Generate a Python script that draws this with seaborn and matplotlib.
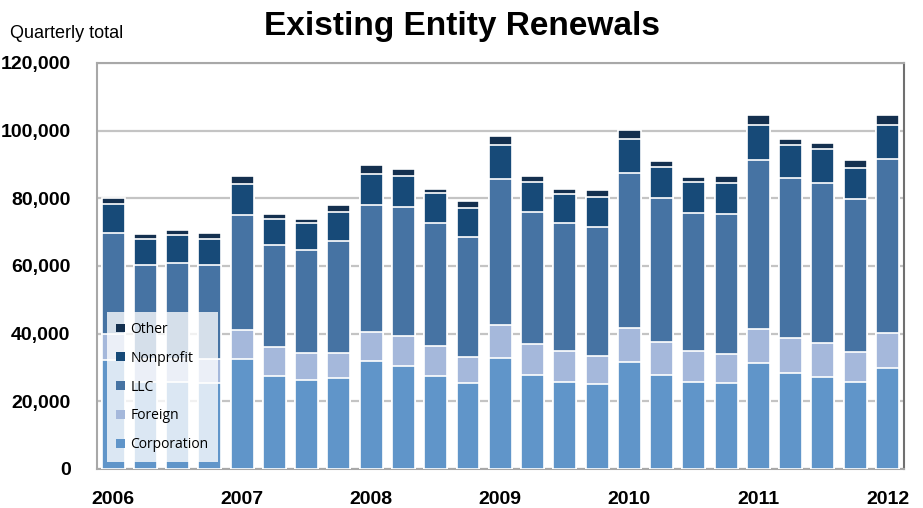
import numpy as np
import pandas as pd
import seaborn as sns
from matplotlib import pyplot as plt
from matplotlib.ticker import FuncFormatter, FixedLocator

# quarterly renewals, 2006 Q1 .. 2012 Q1 (thousands)
quarters = [f"{y} Q{q}" for y in range(2006, 2013) for q in range(1, 5)][:25]
corporation = [32.2, 25.8, 25.6, 25.5, 32.5, 27.6, 26.2, 26.8, 31.8, 30.4, 27.5, 25.4,
               32.8, 27.8, 25.8, 25.0, 31.7, 27.8, 25.6, 25.3, 31.4, 28.5, 27.1, 25.6, 29.9]
foreign = [7.7, 6.8, 7.0, 6.9, 8.5, 8.4, 8.0, 7.4, 8.8, 8.9, 8.9, 7.8,
           9.9, 9.1, 9.0, 8.4, 9.9, 9.7, 9.4, 8.7, 9.9, 10.3, 10.2, 9.0, 10.2]
llc = [29.9, 27.8, 28.4, 27.8, 34.2, 30.2, 30.4, 33.2, 37.5, 38.0, 36.4, 35.4,
       43.0, 39.1, 37.8, 38.2, 45.8, 42.5, 40.8, 41.4, 50.0, 47.2, 47.3, 45.1, 51.4]
nonprofit = [8.5, 7.6, 8.1, 7.8, 9.0, 7.6, 8.1, 8.6, 9.0, 9.4, 8.8, 8.5,
             10.2, 8.9, 8.7, 8.9, 10.1, 9.4, 9.1, 9.2, 10.5, 9.9, 10.0, 9.3, 10.3]
other = [1.9, 1.5, 1.4, 1.8, 2.3, 1.7, 1.1, 1.9, 2.7, 1.9, 1.1, 2.1,
         2.6, 1.8, 1.4, 2.0, 2.6, 1.7, 1.3, 2.0, 2.7, 1.7, 1.7, 2.3, 2.7]
series_names = ["Corporation", "Foreign", "LLC", "Nonprofit", "Other"]
colors = ["#6095c9", "#a5b8db", "#4673a3", "#174a78", "#14304f"]
year_labels = ["2006", "2007", "2008", "2009", "2010", "2011", "2012"]

df = pd.DataFrame({"quarter": quarters, "Corporation": corporation, "Foreign": foreign,
                   "LLC": llc, "Nonprofit": nonprofit, "Other": other})
for c in series_names:
    df[c] = df[c] * 1000
cum = df[series_names].cumsum(axis=1)

sns.set_style("white")
plt.rcParams["font.family"] = ["Liberation Sans Narrow", "Liberation Sans", "DejaVu Sans"]
plt.rcParams["text.color"] = "black"
plt.rcParams["xtick.color"] = "black"
plt.rcParams["ytick.color"] = "black"

fig = plt.figure(figsize=(9.23, 5.08), dpi=100)
ax = fig.add_axes([0.105, 0.0768, 0.874, 0.7992])

# draw cumulative totals from the top layer down so each sits on the last
for name, col in zip(series_names[::-1], colors[::-1]):
    sns.barplot(x=df["quarter"], y=cum[name], color=col, width=0.71,
                edgecolor="white", linewidth=1.2, saturation=1, ax=ax, label=name,
                zorder=3)

ax.set_ylim(0, 120000)
ax.set_xlim(-0.5, 24.5)
ax.set_yticks(np.arange(0, 120001, 20000))
ax.yaxis.set_major_formatter(FuncFormatter(lambda v, p: f"{int(v):,}"))
ax.grid(axis="y", color="#c4c4c4", linewidth=1.6, zorder=0)
ax.set_axisbelow(True)

ax.set_xticks(np.arange(0, 25, 4))
ax.set_xticklabels(year_labels)
ax.xaxis.set_minor_locator(FixedLocator(np.arange(-0.5, 24, 4)))
ax.tick_params(axis="x", which="major", length=0, pad=16)
ax.tick_params(axis="x", which="minor", length=6, color="#a0a0a0", width=1.2)
ax.tick_params(axis="y", length=5, color="#a0a0a0", width=1.2, pad=14)
for lab in ax.get_xticklabels() + ax.get_yticklabels():
    lab.set_fontsize(14)
    lab.set_fontweight("bold")
ax.set_xlabel("")
ax.set_ylabel("")

for s in ["left", "bottom", "top"]:
    ax.spines[s].set_color("#a8a8a8")
    ax.spines[s].set_linewidth(1.5)
ax.spines["right"].set_color("#707070")
ax.spines["right"].set_linewidth(1.5)

handles, labels = ax.get_legend_handles_labels()
leg = ax.legend(handles, labels, loc="lower left", bbox_to_anchor=(0.012, 0.017),
                frameon=True, fancybox=False, framealpha=0.78, edgecolor="none",
                handlelength=0.6, handleheight=0.6, labelspacing=1.0,
                prop={"family": "Open Sans", "size": 10}, borderpad=0.7,
                handletextpad=0.4, borderaxespad=0)
leg.get_frame().set_facecolor("white")
for h in leg.legend_handles:
    h.set_edgecolor("none")

fig.text(0.5, 0.948, "Existing Entity Renewals", ha="center", va="center",
         fontsize=24, fontweight="bold", family=["Liberation Sans", "DejaVu Sans"])
fig.text(0.011, 0.935, "Quarterly total", ha="left", va="center", fontsize=13)

fig.savefig("out.png", dpi=100)
